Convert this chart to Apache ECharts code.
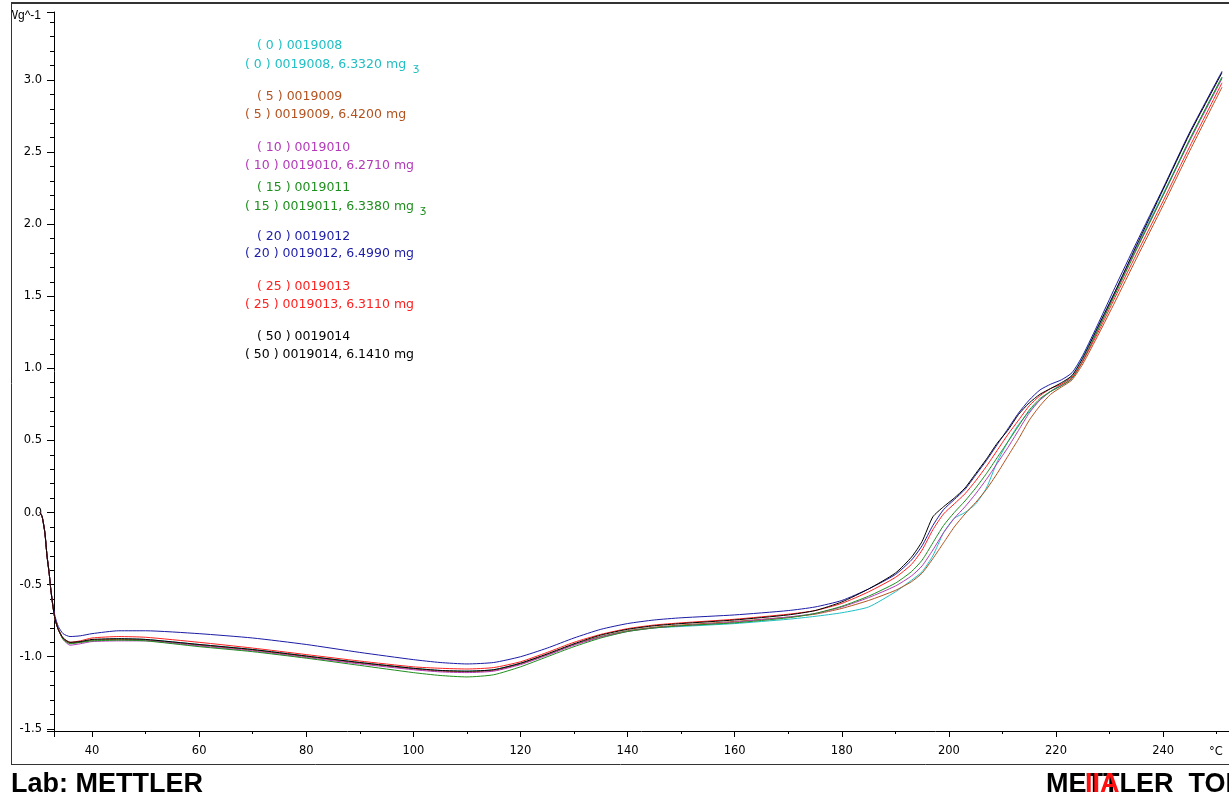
<!DOCTYPE html>
<html><head><meta charset="utf-8">
<script src="https://cdn.jsdelivr.net/npm/echarts@6/dist/echarts.min.js"></script>
<style>html,body{margin:0;padding:0;background:#fff;overflow:hidden}#c{width:1229px;height:800px}</style>
</head><body><div id="c"></div>
<script>
// ---- data ----
const temps = [30.3, 30.7, 31.2, 31.6, 32.0, 32.3, 32.7, 33.1, 33.7, 34.6,
  35.9, 37.8, 40, 45, 50, 60, 70, 80, 90, 100,
  105, 110, 115, 120, 125, 130, 135, 140, 145, 150,
  160, 170, 175, 180, 185, 190, 193, 195, 197, 199,
  201, 203, 205, 207, 209, 211, 213, 215, 217, 219,
  221, 223, 225, 228, 231, 235, 240, 245, 251];

const run0 = [0.0, -0.03, -0.14, -0.30, -0.42, -0.53, -0.65, -0.74, -0.81, -0.875,
  -0.905, -0.90, -0.885, -0.875, -0.88, -0.915, -0.95, -0.995, -1.04, -1.08,
  -1.095, -1.10, -1.09, -1.045, -0.985, -0.915, -0.86, -0.82, -0.80, -0.79,
  -0.77, -0.74, -0.72, -0.695, -0.655, -0.55, -0.47, -0.41, -0.30, -0.14,
  -0.04, 0.00, 0.06, 0.17, 0.35, 0.49, 0.61, 0.70, 0.78, 0.84,
  0.89, 0.95, 1.08, 1.30, 1.53, 1.84, 2.21, 2.59, 3.02];
const run5 = [0.0, -0.03, -0.14, -0.30, -0.42, -0.53, -0.65, -0.74, -0.81, -0.875,
  -0.905, -0.90, -0.885, -0.88, -0.885, -0.92, -0.955, -1.0, -1.045, -1.085,
  -1.10, -1.105, -1.095, -1.05, -0.985, -0.915, -0.86, -0.82, -0.795, -0.78,
  -0.755, -0.725, -0.705, -0.665, -0.61, -0.54, -0.48, -0.42, -0.32, -0.21,
  -0.10, -0.01, 0.07, 0.16, 0.27, 0.39, 0.51, 0.64, 0.74, 0.82,
  0.87, 0.92, 1.03, 1.24, 1.46, 1.76, 2.13, 2.51, 2.95];
const run10 = [0.0, -0.03, -0.14, -0.30, -0.42, -0.53, -0.65, -0.74, -0.81, -0.88,
  -0.92, -0.91, -0.895, -0.89, -0.89, -0.925, -0.96, -1.005, -1.05, -1.09,
  -1.105, -1.11, -1.10, -1.055, -0.99, -0.92, -0.865, -0.825, -0.80, -0.785,
  -0.76, -0.725, -0.70, -0.655, -0.59, -0.51, -0.44, -0.37, -0.26, -0.14,
  -0.04, 0.04, 0.13, 0.23, 0.34, 0.45, 0.57, 0.69, 0.78, 0.84,
  0.88, 0.93, 1.05, 1.28, 1.52, 1.83, 2.20, 2.58, 3.01];
const run15 = [0.0, -0.03, -0.14, -0.30, -0.42, -0.53, -0.65, -0.74, -0.81, -0.88,
  -0.91, -0.90, -0.89, -0.885, -0.89, -0.93, -0.965, -1.01, -1.06, -1.11,
  -1.13, -1.14, -1.125, -1.07, -1.00, -0.93, -0.87, -0.825, -0.80, -0.785,
  -0.765, -0.73, -0.70, -0.65, -0.58, -0.49, -0.41, -0.33, -0.21, -0.09,
  0.00, 0.08, 0.17, 0.27, 0.38, 0.49, 0.60, 0.71, 0.79, 0.84,
  0.88, 0.93, 1.05, 1.28, 1.51, 1.82, 2.20, 2.59, 3.02];
const run20 = [0.0, -0.03, -0.14, -0.30, -0.42, -0.53, -0.64, -0.72, -0.79, -0.84,
  -0.86, -0.855, -0.84, -0.82, -0.82, -0.84, -0.87, -0.915, -0.97, -1.02,
  -1.04, -1.05, -1.04, -1.00, -0.94, -0.87, -0.81, -0.77, -0.745, -0.73,
  -0.71, -0.68, -0.655, -0.61, -0.53, -0.43, -0.33, -0.23, -0.09, 0.02,
  0.09, 0.16, 0.26, 0.36, 0.47, 0.58, 0.69, 0.78, 0.85, 0.89,
  0.92, 0.97, 1.09, 1.32, 1.56, 1.87, 2.25, 2.64, 3.06];
const run25 = [0.0, -0.03, -0.14, -0.30, -0.42, -0.53, -0.65, -0.74, -0.81, -0.87,
  -0.90, -0.89, -0.87, -0.86, -0.865, -0.90, -0.94, -0.985, -1.03, -1.07,
  -1.08, -1.085, -1.075, -1.035, -0.97, -0.90, -0.845, -0.805, -0.78, -0.765,
  -0.74, -0.705, -0.68, -0.63, -0.55, -0.45, -0.36, -0.26, -0.12, -0.01,
  0.06, 0.13, 0.22, 0.32, 0.43, 0.54, 0.64, 0.74, 0.81, 0.86,
  0.89, 0.94, 1.05, 1.26, 1.49, 1.79, 2.16, 2.54, 2.98];
const run50 = [0.0, -0.03, -0.14, -0.30, -0.42, -0.53, -0.65, -0.74, -0.81, -0.87,
  -0.90, -0.895, -0.88, -0.875, -0.88, -0.915, -0.95, -0.995, -1.04, -1.08,
  -1.095, -1.10, -1.09, -1.045, -0.98, -0.91, -0.85, -0.81, -0.785, -0.77,
  -0.745, -0.71, -0.68, -0.62, -0.53, -0.42, -0.31, -0.20, -0.03, 0.04,
  0.10, 0.17, 0.27, 0.37, 0.48, 0.57, 0.68, 0.76, 0.82, 0.86,
  0.90, 0.95, 1.07, 1.30, 1.53, 1.85, 2.24, 2.63, 3.05];

const runValues = [run0, run5, run10, run15, run20, run25, run50];
const runIds = ['( 0 ) 0019008', '( 5 ) 0019009', '( 10 ) 0019010', '( 15 ) 0019011',
  '( 20 ) 0019012', '( 25 ) 0019013', '( 50 ) 0019014'];
const runMasses = ['6.3320 mg', '6.4200 mg', '6.2710 mg', '6.3380 mg', '6.4990 mg', '6.3110 mg', '6.1410 mg'];
const yUnit = 'Wg^-1';
const xUnit = '°C';
const labText = 'Lab: METTLER';
const brandText = 'METTLER  TOLEDO';

// ---- styling / layout ----
const runColors = ['#1fbfc4', '#b3521f', '#b23ab8', '#1f8f1f', '#1c1ca6', '#ff2020', '#000000'];
const legendY1 = [46, 97, 148, 188, 237, 287, 337];
const legendY2 = [65, 115, 166, 207, 254, 305, 355];
const tickFont = { fontFamily: 'DejaVu Sans', fontSize: 11.5, color: '#000' };

const series = runValues.map((vals, i) => ({
  type: 'line',
  name: runIds[i],
  xAxisIndex: 1, yAxisIndex: 1,
  data: temps.map((t, k) => [t, vals[k]]),
  showSymbol: false, symbol: 'none',
  smooth: 0.2,
  lineStyle: { color: runColors[i], width: 1 },
  itemStyle: { color: runColors[i] },
  animation: false, z: 3 + i
}));

const graphic = [];
// frame
graphic.push({ type: 'line', shape: { x1: 11, y1: 3, x2: 1240, y2: 3 }, style: { stroke: '#333', lineWidth: 2 }, z: 50 });
graphic.push({ type: 'line', shape: { x1: 11.5, y1: 3, x2: 11.5, y2: 764 }, style: { stroke: '#333', lineWidth: 1 }, z: 50 });
graphic.push({ type: 'line', shape: { x1: 11, y1: 764.5, x2: 1240, y2: 764.5 }, style: { stroke: '#333', lineWidth: 1 }, z: 50 });
// y unit (left part hidden by the frame margin)
graphic.push({ type: 'text', x: 41, y: 16, style: { text: yUnit, align: 'right', verticalAlign: 'middle', font: '12px "Liberation Sans"', fill: '#000' }, z: 40 });
graphic.push({ type: 'rect', shape: { x: 0, y: 0, width: 11, height: 800 }, style: { fill: '#fff' }, z: 45 });
// x unit
graphic.push({ type: 'text', x: 1216, y: 752, style: { text: xUnit, align: 'center', verticalAlign: 'middle', font: '11.5px "DejaVu Sans"', fill: '#000' }, z: 40 });
// legend-like annotations
runIds.forEach((id, i) => {
  graphic.push({ type: 'text', x: 257, y: legendY1[i], style: { text: id, align: 'left', verticalAlign: 'middle', font: '12.5px "DejaVu Sans"', fill: runColors[i] }, z: 40 });
  graphic.push({ type: 'text', x: 245, y: legendY2[i], style: { text: id + ', ' + runMasses[i], align: 'left', verticalAlign: 'middle', font: '12.5px "DejaVu Sans"', fill: runColors[i] }, z: 40 });
});
graphic.push({ type: 'text', x: 413, y: 68, style: { text: 'ʒ', align: 'left', verticalAlign: 'middle', font: '11px "DejaVu Sans"', fill: runColors[0] }, z: 40 });
graphic.push({ type: 'text', x: 420, y: 210, style: { text: 'ʒ', align: 'left', verticalAlign: 'middle', font: '11px "DejaVu Sans"', fill: runColors[3] }, z: 40 });
// footer
graphic.push({ type: 'text', x: 11, y: 785, style: { text: labText, align: 'left', verticalAlign: 'middle', font: 'bold 27px "Liberation Sans"', fill: '#000' }, z: 40 });
graphic.push({ type: 'text', x: 1046, y: 785, style: { text: brandText, align: 'left', verticalAlign: 'middle', font: 'bold 27px "Liberation Sans"', fill: '#000' }, z: 40 });
graphic.push({ type: 'text', x: 1085, y: 785, style: { text: 'IIA', align: 'left', verticalAlign: 'middle', font: 'bold 27px "Liberation Sans"', fill: '#ff1010' }, z: 41 });

const chart = echarts.init(document.getElementById('c'), null, { renderer: 'canvas' });
chart.setOption({
  backgroundColor: '#fff',
  animation: false,
  grid: [
    { left: 54, right: 0, top: 12, bottom: 69, containLabel: false },
    { left: 40, right: 0, top: 12, bottom: 69, containLabel: false }
  ],
  xAxis: [
    { gridIndex: 0, type: 'value', min: 32.9, max: 252.3, minInterval: 20, maxInterval: 20,
      axisLine: { show: true, onZero: false, lineStyle: { color: '#000', width: 1 } },
      axisTick: { show: true, length: 6, lineStyle: { color: '#000' } },
      minorTick: { show: true, splitNumber: 2, length: 3, lineStyle: { color: '#000' } },
      splitLine: { show: false }, minorSplitLine: { show: false },
      axisLabel: Object.assign({ margin: 14, showMinLabel: false, showMaxLabel: false }, tickFont) },
    { gridIndex: 1, type: 'value', min: 30.29, max: 252.3, show: false, splitLine: { show: false } }
  ],
  yAxis: [
    { gridIndex: 0, type: 'value', min: -1.515, max: 3.471, minInterval: 0.5, maxInterval: 0.5,
      axisLine: { show: true, onZero: false, lineStyle: { color: '#000', width: 1 } },
      axisTick: { show: true, length: 7, lineStyle: { color: '#000' } },
      minorTick: { show: true, splitNumber: 5, length: 4, lineStyle: { color: '#000' } },
      splitLine: { show: false }, minorSplitLine: { show: false },
      axisLabel: Object.assign({ margin: 12, showMinLabel: false, showMaxLabel: false,
        formatter: v => v.toFixed(1) }, tickFont) },
    { gridIndex: 1, type: 'value', min: -1.515, max: 3.471, show: false, splitLine: { show: false } }
  ],
  series: series,
  graphic: graphic
});
</script>
</body></html>
